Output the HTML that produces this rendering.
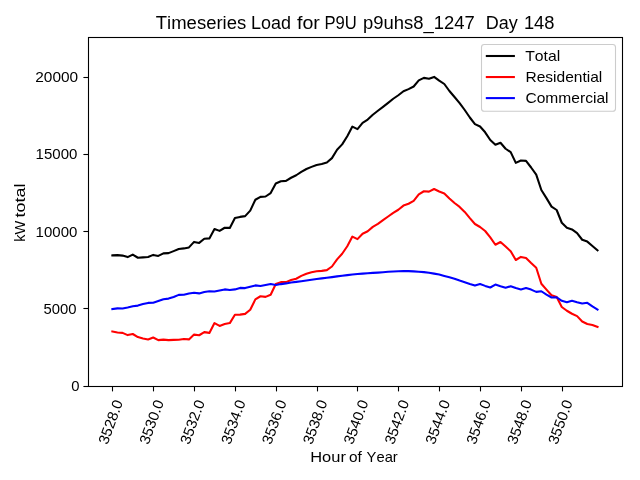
<!DOCTYPE html>
<html lang="en">
<head>
<meta charset="utf-8">
<title>Timeseries Load for P9U p9uhs8_1247 Day 148</title>
<style>
html,body{margin:0;padding:0;background:#fff;}
body{width:640px;height:480px;overflow:hidden;}
svg{display:block;will-change:transform;}
g.txt{filter:grayscale(1);}
svg text{font-family:"Liberation Sans",sans-serif;fill:#000;font-kerning:none;}
</style>
</head>
<body>
<svg width="640" height="480" viewBox="0 0 640 480">
<rect x="0" y="0" width="640" height="480" fill="#ffffff"/>
<g fill="none" stroke-width="2.08" stroke-linejoin="round" stroke-linecap="square">
<polyline stroke="#000000" points="112.35,255.40 117.46,255.10 122.56,255.60 127.67,257.10 132.78,254.60 137.88,257.75 142.99,257.40 148.10,257.00 153.21,254.90 158.31,255.90 163.42,253.40 168.53,253.10 173.63,251.10 178.74,249.00 183.85,248.40 188.95,247.40 194.06,241.90 199.17,242.90 204.28,238.75 209.38,238.40 214.49,229.00 219.60,230.90 224.70,227.75 229.81,227.90 234.92,218.10 240.03,216.90 245.13,216.10 250.24,210.60 255.35,199.75 260.45,196.90 265.56,196.50 270.67,193.10 275.77,183.50 280.88,181.25 285.99,180.90 291.10,177.75 296.20,175.25 301.31,171.90 306.42,169.00 311.52,166.90 316.63,165.00 321.74,164.00 326.84,162.50 331.95,158.10 337.06,149.75 342.16,144.40 347.27,136.25 352.38,126.60 357.49,129.10 362.59,122.90 367.70,119.60 372.81,114.75 377.91,110.80 383.02,106.90 388.13,102.90 393.24,98.75 398.34,95.25 403.45,91.25 408.56,89.10 413.66,86.50 418.77,80.40 423.88,77.90 428.98,78.75 434.09,76.90 439.20,80.60 444.31,84.00 449.41,91.00 454.52,97.00 459.63,103.10 464.73,110.00 469.84,117.50 474.95,124.10 480.05,126.50 485.16,132.30 490.27,140.00 495.38,144.75 500.48,142.75 505.59,148.75 510.70,152.10 515.80,162.90 520.91,160.50 526.02,160.90 531.12,167.50 536.23,174.60 541.34,190.00 546.45,198.10 551.55,206.60 556.66,210.00 561.77,222.75 566.87,227.75 571.98,229.40 577.09,233.10 582.19,239.75 587.30,241.60 592.41,246.00 597.51,250.40"/>
<polyline stroke="#ff0000" points="112.35,331.50 117.46,332.50 122.56,332.90 127.67,335.10 132.78,334.00 137.88,337.10 142.99,338.50 148.10,339.50 153.21,337.50 158.31,340.10 163.42,339.60 168.53,340.10 173.63,339.90 178.74,339.70 183.85,339.00 188.95,339.40 194.06,334.60 199.17,335.25 204.28,332.10 209.38,332.90 214.49,323.10 219.60,325.90 224.70,324.10 229.81,323.10 234.92,314.75 240.03,314.60 245.13,313.90 250.24,309.80 255.35,299.40 260.45,296.25 265.56,296.90 270.67,294.75 275.77,284.00 280.88,282.10 285.99,282.10 291.10,280.00 296.20,278.75 301.31,275.90 306.42,273.75 311.52,272.25 316.63,271.25 321.74,270.90 326.84,270.10 331.95,266.50 337.06,259.40 342.16,253.75 347.27,246.25 352.38,236.60 357.49,239.10 362.59,233.75 367.70,231.25 372.81,226.90 377.91,223.90 383.02,220.20 388.13,216.50 393.24,212.90 398.34,209.75 403.45,205.60 408.56,203.75 413.66,200.90 418.77,194.40 423.88,191.25 428.98,191.60 434.09,189.00 439.20,191.50 444.31,193.50 449.41,198.50 454.52,203.00 459.63,206.90 464.73,211.90 469.84,218.10 474.95,224.00 480.05,227.00 485.16,231.00 490.27,237.40 495.38,244.75 500.48,242.00 505.59,246.60 510.70,251.25 515.80,260.00 520.91,256.90 526.02,258.10 531.12,263.10 536.23,267.80 541.34,283.75 546.45,289.60 551.55,295.25 556.66,297.10 561.77,307.00 566.87,310.75 571.98,313.75 577.09,316.10 582.19,321.50 587.30,324.00 592.41,325.00 597.51,326.90"/>
<polyline stroke="#0000ff" points="112.35,309.10 117.46,308.40 122.56,308.50 127.67,307.50 132.78,306.25 137.88,305.60 142.99,304.10 148.10,302.90 153.21,302.80 158.31,301.00 163.42,299.20 168.53,298.60 173.63,297.00 178.74,294.90 183.85,294.75 188.95,293.50 194.06,292.75 199.17,293.40 204.28,292.00 209.38,291.25 214.49,291.50 219.60,290.40 224.70,289.40 229.81,290.00 234.92,289.40 240.03,287.90 245.13,288.10 250.24,286.80 255.35,285.40 260.45,286.00 265.56,285.00 270.67,284.00 275.77,285.00 280.88,284.10 285.99,283.40 291.10,282.50 296.20,281.90 301.31,281.25 306.42,280.50 311.52,279.75 316.63,279.00 321.74,278.40 326.84,277.75 331.95,277.10 337.06,276.40 342.16,275.70 347.27,275.10 352.38,274.50 357.49,274.00 362.59,273.60 367.70,273.20 372.81,272.90 377.91,272.60 383.02,272.20 388.13,271.80 393.24,271.50 398.34,271.30 403.45,271.10 408.56,271.10 413.66,271.40 418.77,271.75 423.88,272.10 428.98,272.75 434.09,273.60 439.20,274.50 444.31,275.90 449.41,277.25 454.52,278.75 459.63,280.60 464.73,282.25 469.84,284.00 474.95,285.60 480.05,284.00 485.16,285.90 490.27,287.50 495.38,284.60 500.48,286.25 505.59,287.75 510.70,286.25 515.80,288.10 520.91,289.40 526.02,288.00 531.12,289.60 536.23,291.90 541.34,291.25 546.45,294.60 551.55,297.50 556.66,297.25 561.77,300.80 566.87,302.20 571.98,300.75 577.09,302.20 582.19,303.45 587.30,302.80 592.41,306.40 597.51,309.50"/>
</g>
<rect x="88.5" y="37.5" width="534.0" height="349.0" fill="none" stroke="#000" stroke-width="1.1"/>
<g stroke="#000" stroke-width="1.1" fill="none">
<line x1="112.5" y1="386.5" x2="112.5" y2="391.4"/>
<line x1="153.5" y1="386.5" x2="153.5" y2="391.4"/>
<line x1="194.5" y1="386.5" x2="194.5" y2="391.4"/>
<line x1="235.5" y1="386.5" x2="235.5" y2="391.4"/>
<line x1="276.5" y1="386.5" x2="276.5" y2="391.4"/>
<line x1="317.5" y1="386.5" x2="317.5" y2="391.4"/>
<line x1="357.5" y1="386.5" x2="357.5" y2="391.4"/>
<line x1="398.5" y1="386.5" x2="398.5" y2="391.4"/>
<line x1="439.5" y1="386.5" x2="439.5" y2="391.4"/>
<line x1="480.5" y1="386.5" x2="480.5" y2="391.4"/>
<line x1="521.5" y1="386.5" x2="521.5" y2="391.4"/>
<line x1="562.5" y1="386.5" x2="562.5" y2="391.4"/>
<line x1="83.4" y1="386.5" x2="88.5" y2="386.5"/>
<line x1="83.4" y1="308.5" x2="88.5" y2="308.5"/>
<line x1="83.4" y1="231.5" x2="88.5" y2="231.5"/>
<line x1="83.4" y1="154.5" x2="88.5" y2="154.5"/>
<line x1="83.4" y1="77.5" x2="88.5" y2="77.5"/>
</g>
<g class="txt">
<text x="71.37" y="391.2" font-size="14.7" textLength="8.26" lengthAdjust="spacingAndGlyphs">0</text>
<text x="43.45" y="314.2" font-size="14.7" textLength="33.08" lengthAdjust="spacingAndGlyphs">5000</text>
<text x="35.61" y="237.2" font-size="14.7" textLength="41.73" lengthAdjust="spacingAndGlyphs">10000</text>
<text x="35.61" y="159.2" font-size="14.7" textLength="41.73" lengthAdjust="spacingAndGlyphs">15000</text>
<text x="35.27" y="82.2" font-size="14.7" textLength="42.88" lengthAdjust="spacingAndGlyphs">20000</text>
<text transform="translate(107.50,445.3) rotate(-70)" font-size="14.7" textLength="46.0" lengthAdjust="spacingAndGlyphs">3528.0</text>
<text transform="translate(148.39,445.3) rotate(-70)" font-size="14.7" textLength="46.0" lengthAdjust="spacingAndGlyphs">3530.0</text>
<text transform="translate(189.27,445.3) rotate(-70)" font-size="14.7" textLength="46.0" lengthAdjust="spacingAndGlyphs">3532.0</text>
<text transform="translate(230.16,445.3) rotate(-70)" font-size="14.7" textLength="46.0" lengthAdjust="spacingAndGlyphs">3534.0</text>
<text transform="translate(271.04,445.3) rotate(-70)" font-size="14.7" textLength="46.0" lengthAdjust="spacingAndGlyphs">3536.0</text>
<text transform="translate(311.93,445.3) rotate(-70)" font-size="14.7" textLength="46.0" lengthAdjust="spacingAndGlyphs">3538.0</text>
<text transform="translate(352.82,445.3) rotate(-70)" font-size="14.7" textLength="46.0" lengthAdjust="spacingAndGlyphs">3540.0</text>
<text transform="translate(393.70,445.3) rotate(-70)" font-size="14.7" textLength="46.0" lengthAdjust="spacingAndGlyphs">3542.0</text>
<text transform="translate(434.59,445.3) rotate(-70)" font-size="14.7" textLength="46.0" lengthAdjust="spacingAndGlyphs">3544.0</text>
<text transform="translate(475.47,445.3) rotate(-70)" font-size="14.7" textLength="46.0" lengthAdjust="spacingAndGlyphs">3546.0</text>
<text transform="translate(516.36,445.3) rotate(-70)" font-size="14.7" textLength="46.0" lengthAdjust="spacingAndGlyphs">3548.0</text>
<text transform="translate(557.25,445.3) rotate(-70)" font-size="14.7" textLength="46.0" lengthAdjust="spacingAndGlyphs">3550.0</text>
<text x="310.25" y="461.6" font-size="14.6" textLength="35.62" lengthAdjust="spacingAndGlyphs">Hour</text>
<text x="349.05" y="461.6" font-size="14.6" textLength="12.82" lengthAdjust="spacingAndGlyphs">of</text>
<text x="366.58" y="461.6" font-size="14.6" textLength="31.17" lengthAdjust="spacingAndGlyphs">Year</text>
<text transform="translate(24.8,0) rotate(-90)" x="-241.78" y="0" font-size="14.6" textLength="21.03" lengthAdjust="spacingAndGlyphs">kW</text>
<text transform="translate(24.8,0) rotate(-90)" x="-217.47" y="0" font-size="14.6" textLength="33.97" lengthAdjust="spacingAndGlyphs">total</text>
<text x="155.78" y="28.6" font-size="17.5" textLength="90.48" lengthAdjust="spacingAndGlyphs">Timeseries</text>
<text x="251.13" y="28.6" font-size="17.5" textLength="39.93" lengthAdjust="spacingAndGlyphs">Load</text>
<text x="297.02" y="28.6" font-size="17.5" textLength="22.9" lengthAdjust="spacingAndGlyphs">for</text>
<text x="324.54" y="28.6" font-size="17.5" textLength="32.35" lengthAdjust="spacingAndGlyphs">P9U</text>
<text x="362.91" y="28.6" font-size="17.5" textLength="111.82" lengthAdjust="spacingAndGlyphs">p9uhs8_1247</text>
<text x="485.72" y="28.6" font-size="17.5" textLength="32.01" lengthAdjust="spacingAndGlyphs">Day</text>
<text x="523.9" y="28.6" font-size="17.5" textLength="30.59" lengthAdjust="spacingAndGlyphs">148</text>
</g>
<rect x="481.5" y="44.5" width="134" height="66.8" rx="2.8" ry="2.8" fill="#ffffff" fill-opacity="0.8" stroke="#cccccc" stroke-width="1.1"/>
<g stroke-width="2.08" fill="none">
<line x1="485.8" y1="56.0" x2="514.9" y2="56.0" stroke="#000000"/>
<line x1="485.8" y1="77.05" x2="514.9" y2="77.05" stroke="#ff0000"/>
<line x1="485.8" y1="98.1" x2="514.9" y2="98.1" stroke="#0000ff"/>
</g>
<g class="txt">
<text x="525.15" y="60.7" font-size="14.6" textLength="35.01" lengthAdjust="spacingAndGlyphs">Total</text>
<text x="525.43" y="81.8" font-size="14.6" textLength="76.86" lengthAdjust="spacingAndGlyphs">Residential</text>
<text x="525.46" y="102.9" font-size="14.6" textLength="83.08" lengthAdjust="spacingAndGlyphs">Commercial</text>
</g>
</svg>
</body>
</html>
